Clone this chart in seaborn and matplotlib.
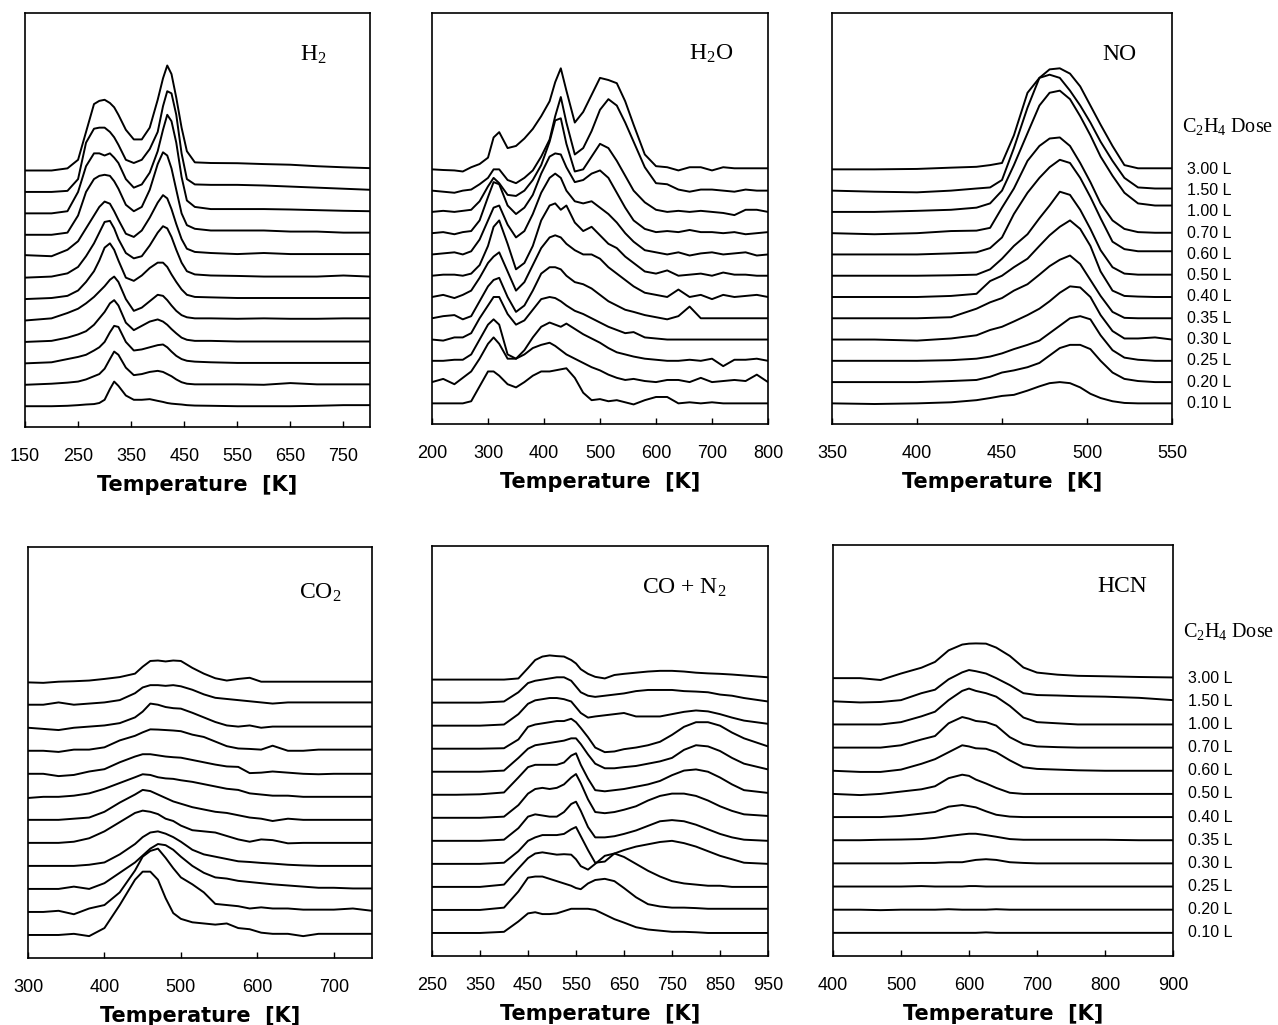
import pandas as pd
import matplotlib
matplotlib.use("Agg")
import matplotlib.pyplot as plt
import matplotlib.transforms as mtransforms
import seaborn as sns

# C2H4 doses, top trace first
doses = ["3.00 L", "1.50 L", "1.00 L", "0.70 L", "0.60 L", "0.50 L",
         "0.40 L", "0.35 L", "0.30 L", "0.25 L", "0.20 L", "0.10 L"]

# ---- H2 ----
h2_T = [150, 200, 230, 250, 265, 280, 290, 300, 310, 318, 326, 340, 355, 370, 385,
        400, 410, 418, 426, 435, 445, 455, 470, 500, 550, 600, 650, 700, 750, 800]
h2_I = [
    [0, 0, 0.1, 0.5, 1.8, 3.1, 3.25, 3.3, 3.15, 2.95, 2.6, 1.9, 1.45, 1.45, 2.0, 3.3, 4.3, 4.9, 4.5, 3.4, 2.0, 0.9, 0.38, 0.35, 0.34, 0.3, 0.27, 0.2, 0.15, 0.11],
    [0, 0, 0.05, 0.6, 2.3, 2.95, 3.0, 3.0, 2.8, 2.55, 2.2, 1.5, 1.35, 1.5, 2.0, 2.8, 4.0, 4.7, 4.6, 3.6, 1.8, 0.6, 0.35, 0.33, 0.33, 0.3, 0.25, 0.2, 0.15, 0.1],
    [0, 0, 0.1, 1.0, 2.2, 2.8, 2.8, 2.7, 2.8, 2.6, 2.35, 1.6, 1.2, 1.35, 1.9, 2.9, 3.9, 4.6, 4.3, 3.3, 1.7, 0.6, 0.3, 0.2, 0.2, 0.2, 0.18, 0.15, 0.12, 0.1],
    [0, 0, 0.1, 0.9, 2.0, 2.6, 2.75, 2.8, 2.75, 2.5, 2.15, 1.4, 1.1, 1.3, 2.1, 3.3, 3.85, 3.7, 3.1, 2.1, 1.0, 0.45, 0.28, 0.2, 0.2, 0.2, 0.15, 0.15, 0.1, 0.1],
    [0.05, 0.0, 0.3, 0.7, 1.3, 1.9, 2.3, 2.55, 2.45, 2.1, 1.7, 1.05, 0.9, 1.2, 1.8, 2.5, 2.85, 2.7, 2.2, 1.5, 0.8, 0.35, 0.2, 0.15, 0.1, 0.15, 0.1, 0.1, 0.1, 0.1],
    [0, 0.05, 0.2, 0.5, 1.0, 1.6, 2.1, 2.6, 2.65, 2.3, 1.8, 1.15, 0.9, 1.0, 1.5, 2.1, 2.4, 2.3, 1.9, 1.3, 0.7, 0.3, 0.15, 0.1, 0.08, 0.05, 0.05, 0.05, 0.1, 0.05],
    [0, 0.05, 0.15, 0.4, 0.8, 1.3, 1.8, 2.4, 2.6, 2.3, 1.8, 1.0, 0.85, 1.1, 1.45, 1.7, 1.7, 1.5, 1.15, 0.8, 0.45, 0.2, 0.1, 0.08, 0.05, 0.05, 0.05, 0.05, 0.05, 0.05],
    [0, 0.1, 0.35, 0.55, 0.8, 1.1, 1.35, 1.6, 1.9, 2.05, 1.8, 1.0, 0.45, 0.6, 0.9, 1.2, 1.15, 0.95, 0.7, 0.45, 0.25, 0.15, 0.1, 0.1, 0.08, 0.1, 0.08, 0.08, 0.1, 0.1],
    [0, 0.05, 0.2, 0.35, 0.5, 0.8, 1.1, 1.4, 1.8, 1.95, 1.7, 0.9, 0.55, 0.75, 0.95, 1.05, 0.95, 0.8, 0.6, 0.4, 0.2, 0.1, 0.05, 0.05, 0.02, 0.02, 0.02, 0.02, 0.02, 0.02],
    [0, 0.05, 0.2, 0.3, 0.4, 0.6, 0.75, 1.0, 1.45, 1.75, 1.7, 1.0, 0.6, 0.65, 0.75, 0.85, 0.88, 0.75, 0.55, 0.35, 0.2, 0.12, 0.08, 0.05, 0.02, 0.02, 0.02, 0.02, 0.02, 0.02],
    [0, 0.05, 0.1, 0.15, 0.25, 0.4, 0.5, 0.75, 1.2, 1.55, 1.4, 0.8, 0.45, 0.5, 0.6, 0.65, 0.6, 0.5, 0.4, 0.25, 0.12, 0.05, 0.02, 0.02, 0.02, 0.0, 0.08, 0.02, 0.02, 0.02],
    [0, 0, 0.02, 0.05, 0.08, 0.1, 0.15, 0.3, 0.8, 1.15, 0.95, 0.5, 0.3, 0.3, 0.33, 0.25, 0.2, 0.15, 0.12, 0.1, 0.08, 0.05, 0.03, 0.02, 0.0, 0.0, 0.0, 0.02, 0.05, 0.05],
]

# ---- H2O ----
h2o_T = [200, 220, 240, 255, 270, 285, 300, 310, 320, 335, 350, 365, 380, 395, 410, 420, 430, 440, 455,
         470, 485, 500, 515, 530, 545, 560, 580, 600, 620, 640, 660, 680, 700, 720, 740, 760, 780, 800]
h2o_I = [
    [0, -0.03, -0.05, -0.1, 0.1, 0.25, 0.55, 1.5, 1.75, 1.0, 1.1, 1.45, 1.9, 2.5, 3.2, 4.1, 4.75, 3.7, 2.2, 2.7, 3.5, 4.3, 4.2, 4.05, 3.2, 2.1, 0.7, 0.15, 0.1, -0.05, 0.1, 0.1, -0.05, 0.1, 0.05, 0.05, 0.05, 0.05],
    [0, -0.05, -0.1, 0.0, 0.05, 0.3, 0.6, 1.0, 1.0, 0.5, 0.35, 0.6, 0.95, 1.6, 2.4, 3.5, 4.4, 3.2, 1.7, 2.0, 2.8, 3.8, 4.3, 4.0, 3.2, 2.3, 1.1, 0.35, 0.3, 0.05, -0.05, 0.05, 0.05, 0.0, -0.05, 0.05, 0.0, 0.0],
    [0, 0.05, 0.0, 0.05, 0.1, 0.5, 1.2, 1.6, 1.35, 0.8, 0.75, 1.0, 1.5, 2.2, 3.3, 4.3, 4.4, 3.2, 1.9, 2.0, 2.6, 3.2, 3.0, 2.4, 1.7, 1.0, 0.45, 0.1, 0.0, 0.05, 0.0, 0.05, 0.0, -0.05, -0.15, 0.1, 0.1, 0.0],
    [0, 0.05, -0.05, 0.05, 0.1, 0.6, 1.7, 2.4, 2.3, 1.3, 0.9, 1.2, 1.8, 2.8, 3.6, 3.75, 3.7, 3.1, 2.4, 2.5, 2.8, 2.95, 2.6, 1.9, 1.2, 0.6, 0.2, 0.05, 0.1, 0.05, 0.15, 0.05, 0.05, 0.0, 0.05, -0.05, 0.0, 0.05],
    [0, 0.05, 0.1, 0.0, 0.15, 0.7, 1.6, 2.2, 2.3, 1.4, 0.8, 1.1, 1.9, 2.9, 3.6, 3.8, 3.6, 3.0, 2.5, 2.4, 2.5, 2.2, 1.9, 1.5, 1.0, 0.6, 0.2, 0.1, 0.0, 0.1, -0.05, 0.05, 0.1, 0.0, 0.05, 0.1, -0.05, 0.0],
    [0, 0.05, 0.05, 0.0, 0.1, 0.5, 1.4, 2.3, 2.6, 1.5, 0.3, 0.6, 1.4, 2.6, 3.3, 3.4, 3.1, 3.3, 2.5, 2.1, 2.3, 1.9, 1.5, 1.3, 0.9, 0.6, 0.2, 0.1, 0.25, 0.0, 0.05, 0.1, 0.0, 0.15, 0.05, 0.05, 0.0, 0.0],
    [0, 0.1, -0.05, 0.1, 0.3, 0.9, 1.6, 1.9, 2.1, 1.2, 0.3, 0.7, 1.5, 2.3, 2.8, 2.9, 2.8, 2.5, 2.2, 2.0, 2.0, 1.8, 1.4, 1.1, 0.8, 0.5, 0.2, 0.1, 0.0, 0.35, 0.0, 0.1, -0.1, 0.1, 0.0, 0.05, 0.1, 0.0],
    [0, 0.1, 0.15, -0.05, 0.1, 0.8, 1.5, 1.8, 1.9, 1.0, 0.3, 0.6, 1.3, 2.1, 2.4, 2.4, 2.3, 2.0, 1.7, 1.6, 1.4, 1.1, 0.8, 0.6, 0.4, 0.3, 0.15, 0.05, -0.05, 0.1, 0.55, 0.0, 0.0, 0.0, 0.0, 0.0, 0.0, 0.0],
    [0, -0.05, 0.1, 0.1, 0.3, 1.0, 1.6, 2.0, 2.0, 1.2, 0.7, 0.9, 1.4, 1.9, 2.0, 1.95, 1.8, 1.6, 1.35, 1.2, 1.0, 0.8, 0.6, 0.45, 0.3, 0.35, 0.1, 0.05, 0.0, 0.0, 0.0, 0.0, 0.0, 0.0, 0.0, 0.0, 0.0, 0.0],
    [0, 0.0, 0.05, 0.05, 0.3, 1.0, 1.7, 1.95, 1.7, 0.3, 0.1, 0.5, 1.1, 1.6, 1.8, 1.7, 1.6, 1.75, 1.5, 1.25, 1.05, 0.85, 0.6, 0.4, 0.3, 0.2, 0.1, 0.05, 0.0, 0.0, 0.05, 0.0, 0.1, -0.25, 0.05, 0.05, 0.1, 0.0],
    [0, 0.15, -0.1, 0.2, 0.5, 1.1, 1.8, 2.1, 1.8, 1.1, 1.1, 1.3, 1.6, 1.75, 1.85, 1.7, 1.5, 1.3, 1.1, 0.9, 0.7, 0.55, 0.35, 0.2, 0.1, 0.15, 0.05, 0.0, 0.1, 0.1, 0.0, 0.2, 0.0, 0.05, 0.1, 0.05, 0.35, 0.0],
    [0, 0.0, 0.0, 0.0, 0.1, 0.8, 1.5, 1.5, 1.3, 0.9, 0.75, 1.0, 1.3, 1.5, 1.5, 1.55, 1.6, 1.65, 1.2, 0.5, 0.15, 0.2, 0.1, 0.15, 0.05, -0.05, 0.15, 0.3, 0.3, 0.0, 0.05, 0.0, 0.05, 0.0, 0.0, 0.0, 0.0, 0.0],
]

# ---- NO ----
no_T = [350, 375, 400, 420, 435, 443, 450, 457, 465, 472, 478, 484, 490, 496, 502, 508, 515, 522, 530, 540, 550]
no_I = [
    [0, 0, 0.02, 0.08, 0.12, 0.2, 0.3, 1.6, 3.6, 4.3, 4.7, 4.75, 4.5, 3.9, 3.0, 2.1, 1.1, 0.2, 0.05, 0.05, 0.05],
    [0, -0.05, -0.08, 0, 0.1, 0.15, 0.5, 2.0, 3.9, 5.3, 5.45, 5.3, 4.7, 4.0, 3.2, 2.3, 1.4, 0.6, 0.15, 0.1, 0.1],
    [0, 0, 0.05, 0.1, 0.2, 0.4, 1.0, 2.2, 3.7, 5.0, 5.6, 5.7, 5.3, 4.5, 3.6, 2.6, 1.7, 0.9, 0.4, 0.3, 0.3],
    [0, -0.05, 0, 0.1, 0.12, 0.25, 1.2, 2.1, 3.4, 4.1, 4.45, 4.5, 4.1, 3.3, 2.4, 1.4, 0.6, 0.2, 0.05, 0.02, 0.02],
    [0, 0, 0, 0.05, 0.1, 0.3, 0.8, 1.9, 2.9, 3.6, 4.1, 4.45, 4.3, 3.6, 2.7, 1.7, 0.6, 0.25, 0.15, 0.15, 0.15],
    [0, 0, 0, 0.02, 0.05, 0.3, 0.8, 1.4, 1.95, 2.7, 3.3, 3.95, 3.8, 3.1, 2.2, 1.2, 0.4, 0.1, 0.05, 0.05, 0.05],
    [0, 0, 0, 0.05, 0.15, 0.75, 1.0, 1.4, 1.8, 2.4, 2.9, 3.3, 3.6, 3.2, 2.4, 1.2, 0.3, 0.05, 0.02, 0, 0],
    [0, 0, 0, 0.05, 0.45, 0.75, 0.95, 1.3, 1.6, 2.05, 2.45, 2.75, 2.95, 2.55, 1.8, 1.05, 0.3, 0.02, 0, 0, 0],
    [0, 0, -0.05, 0.05, 0.2, 0.45, 0.6, 0.85, 1.15, 1.45, 1.8, 2.2, 2.5, 2.45, 2.0, 1.15, 0.4, 0.05, 0.05, 0.1, 0],
    [0, 0, 0, 0.03, 0.1, 0.2, 0.35, 0.55, 0.75, 0.95, 1.3, 1.65, 2.0, 2.1, 1.95, 1.2, 0.5, 0.15, 0.05, 0, 0],
    [0, 0, 0, 0.05, 0.1, 0.25, 0.45, 0.55, 0.7, 0.9, 1.25, 1.6, 1.75, 1.75, 1.55, 1.0, 0.45, 0.15, 0.05, 0, 0],
    [0, -0.03, 0, 0.05, 0.15, 0.25, 0.35, 0.4, 0.6, 0.8, 0.95, 1.0, 0.95, 0.75, 0.45, 0.25, 0.1, 0.02, 0, 0, 0],
]

# ---- CO2 ----
co2_T = [300, 320, 340, 360, 380, 400, 420, 440, 450, 460, 470, 480, 490, 500, 515,
         530, 545, 560, 575, 590, 605, 620, 640, 660, 680, 700, 725, 750]
co2_I = [
    [-0.03, -0.05, 0.0, 0.02, 0.05, 0.12, 0.2, 0.35, 0.65, 0.9, 0.92, 0.88, 0.92, 0.9, 0.6, 0.35, 0.15, 0.05, 0.12, 0.17, 0.0, 0.0, 0.0, 0.0, 0.0, 0.0, 0.0, 0.0],
    [0, 0, 0.1, 0.0, 0.05, 0.1, 0.2, 0.5, 0.75, 0.85, 0.85, 0.82, 0.85, 0.8, 0.65, 0.45, 0.3, 0.25, 0.2, 0.15, 0.1, 0.05, 0.1, 0.1, 0.1, 0.1, 0.1, 0.1],
    [0, -0.05, -0.1, 0.0, 0.05, 0.1, 0.2, 0.45, 0.7, 1.05, 1.0, 0.9, 0.85, 0.83, 0.65, 0.45, 0.25, 0.1, 0.05, 0.1, 0.0, 0.05, 0.05, 0.05, 0.05, 0.05, 0.05, 0.05],
    [0, 0, -0.05, 0.05, 0.05, 0.15, 0.45, 0.65, 0.8, 0.93, 0.92, 0.9, 0.88, 0.85, 0.7, 0.6, 0.4, 0.2, 0.1, 0.08, 0.05, 0.22, 0.0, 0.0, 0.05, 0.05, 0.05, 0.05],
    [0, 0.0, -0.1, -0.05, 0.1, 0.2, 0.5, 0.75, 0.85, 0.85, 0.8, 0.75, 0.72, 0.7, 0.6, 0.5, 0.4, 0.32, 0.3, 0.03, 0.05, 0.1, 0.05, 0.0, -0.02, 0.0, 0.0, 0.0],
    [-0.05, 0.0, 0.0, 0.05, 0.15, 0.35, 0.6, 0.85, 0.98, 0.95, 0.85, 0.8, 0.78, 0.72, 0.65, 0.55, 0.45, 0.35, 0.3, 0.15, 0.1, 0.05, 0.05, 0.0, 0.0, 0.0, 0.0, 0.0],
    [0, 0, 0, 0.05, 0.1, 0.35, 0.75, 1.1, 1.3, 1.25, 1.1, 0.95, 0.8, 0.7, 0.55, 0.45, 0.35, 0.3, 0.2, 0.1, 0.05, -0.05, 0.05, 0.0, 0.0, 0.0, 0.0, 0.0],
    [0, 0, 0, 0.05, 0.2, 0.5, 0.9, 1.3, 1.4, 1.35, 1.25, 1.05, 0.95, 0.75, 0.55, 0.5, 0.45, 0.3, 0.15, 0.05, 0.15, 0.12, -0.02, 0.0, 0.0, 0.0, 0.0, 0.0],
    [0, 0, 0, 0, 0.05, 0.15, 0.5, 0.95, 1.25, 1.45, 1.5, 1.4, 1.25, 1.05, 0.7, 0.5, 0.4, 0.3, 0.2, 0.17, 0.13, 0.1, 0.05, 0.02, 0.0, 0.0, 0.0, 0.0],
    [0, 0, 0, 0.1, 0.0, 0.25, 0.7, 1.15, 1.45, 1.75, 1.95, 1.9, 1.7, 1.4, 1.0, 0.7, 0.5, 0.45, 0.35, 0.3, 0.25, 0.2, 0.15, 0.1, 0.05, 0.05, 0.02, 0.02],
    [0, 0, 0.05, -0.1, 0.15, 0.3, 0.85, 1.8, 2.4, 2.65, 2.75, 2.35, 1.9, 1.5, 1.2, 0.85, 0.35, 0.3, 0.25, 0.15, 0.2, 0.15, 0.15, 0.1, 0.1, 0.1, 0.15, 0.05],
    [0, 0, 0, 0.05, -0.05, 0.3, 1.3, 2.4, 2.75, 2.75, 2.4, 1.6, 0.95, 0.7, 0.55, 0.5, 0.45, 0.5, 0.3, 0.25, 0.1, 0.05, 0.05, -0.05, 0.05, 0.05, 0.05, 0.05],
]

# ---- CO + N2 ----
co_T = [250, 300, 350, 400, 430, 450, 465, 480, 495, 510, 525, 540, 550, 560, 575,
        590, 610, 630, 650, 675, 700, 725, 750, 775, 800, 825, 850, 875, 900, 950]
co_I = [
    [0, 0, 0, 0, 0.05, 0.5, 0.85, 1.0, 1.05, 1.02, 1.0, 0.85, 0.7, 0.45, 0.25, 0.12, 0.05, 0.2, 0.25, 0.3, 0.35, 0.38, 0.38, 0.35, 0.3, 0.27, 0.25, 0.22, 0.18, 0.1],
    [0, 0, 0, 0.05, 0.45, 0.85, 0.95, 1.0, 1.05, 1.1, 1.1, 0.95, 0.7, 0.45, 0.3, 0.25, 0.3, 0.35, 0.4, 0.5, 0.55, 0.55, 0.55, 0.5, 0.48, 0.45, 0.35, 0.3, 0.2, 0.05],
    [0, 0, 0, 0.05, 0.5, 0.95, 1.1, 1.15, 1.2, 1.2, 1.15, 1.05, 0.8, 0.55, 0.35, 0.4, 0.45, 0.5, 0.55, 0.4, 0.4, 0.4, 0.5, 0.6, 0.66, 0.62, 0.5, 0.35, 0.22, 0.08],
    [0, 0, 0, 0.02, 0.4, 0.95, 1.05, 1.1, 1.15, 1.2, 1.2, 1.3, 1.15, 0.9, 0.5, 0.05, -0.15, -0.12, -0.02, 0.05, 0.15, 0.3, 0.6, 0.95, 1.15, 1.15, 1.0, 0.7, 0.45, 0.1],
    [0, 0, 0, 0.05, 0.6, 1.0, 1.15, 1.2, 1.25, 1.3, 1.35, 1.45, 1.45, 1.2, 0.75, 0.35, 0.15, 0.15, 0.2, 0.25, 0.35, 0.45, 0.6, 0.95, 1.15, 1.1, 0.9, 0.6, 0.35, 0.1],
    [0, 0, 0.02, 0.1, 0.75, 1.2, 1.3, 1.3, 1.3, 1.3, 1.4, 1.7, 1.8, 1.3, 0.7, 0.2, 0.15, 0.2, 0.25, 0.35, 0.45, 0.6, 0.85, 1.05, 1.1, 1.0, 0.75, 0.45, 0.2, 0.08],
    [0, 0, 0, 0.05, 0.55, 1.05, 1.25, 1.3, 1.25, 1.3, 1.45, 1.75, 1.9, 1.5, 0.8, 0.25, 0.2, 0.25, 0.35, 0.5, 0.75, 0.95, 1.05, 1.05, 0.95, 0.75, 0.5, 0.3, 0.15, 0.08],
    [0, 0, 0, 0.05, 0.55, 1.05, 1.15, 1.1, 1.05, 1.05, 1.25, 1.6, 1.7, 1.3, 0.6, 0.15, 0.15, 0.2, 0.3, 0.45, 0.65, 0.85, 0.9, 0.85, 0.7, 0.5, 0.3, 0.15, 0.05, 0.0],
    [0, 0, 0, 0.05, 0.55, 1.0, 1.15, 1.25, 1.25, 1.25, 1.3, 1.5, 1.6, 1.2, 0.6, 0.05, 0.1, 0.45, 0.6, 0.75, 0.85, 0.95, 1.0, 0.9, 0.75, 0.55, 0.35, 0.2, 0.05, 0.0],
    [0, 0, 0, 0.1, 0.8, 1.25, 1.45, 1.5, 1.45, 1.4, 1.42, 1.4, 1.2, 0.9, 0.75, 1.0, 1.35, 1.45, 1.3, 1.0, 0.7, 0.45, 0.25, 0.15, 0.1, 0.05, 0.05, 0.0, 0.0, 0.0],
    [0, 0, 0, 0.1, 0.8, 1.4, 1.45, 1.45, 1.35, 1.25, 1.15, 1.05, 0.95, 0.9, 1.15, 1.3, 1.35, 1.25, 0.95, 0.55, 0.25, 0.15, 0.1, 0.1, 0.08, 0.05, 0.05, 0.05, 0.05, 0.05],
    [0, 0, 0, 0.05, 0.5, 0.85, 0.9, 0.82, 0.82, 0.85, 0.95, 1.05, 1.05, 1.05, 1.05, 1.0, 0.8, 0.6, 0.45, 0.25, 0.15, 0.1, 0.05, 0.05, 0.03, 0.0, 0.0, 0.0, 0.0, 0.0],
]

# ---- HCN ----
hcn_T = [400, 440, 470, 500, 530, 550, 570, 590, 600, 610, 625, 640, 660, 680, 700, 730, 760, 800, 850, 900]
hcn_I = [
    [0, 0, -0.08, 0.2, 0.45, 0.7, 1.2, 1.45, 1.49, 1.5, 1.49, 1.32, 0.96, 0.46, 0.24, 0.15, 0.1, 0.08, 0.05, 0.03],
    [0, -0.05, -0.03, 0.05, 0.35, 0.5, 0.95, 1.25, 1.35, 1.3, 1.2, 1.0, 0.7, 0.35, 0.27, 0.25, 0.22, 0.2, 0.15, 0.05],
    [0, 0, 0, 0.1, 0.35, 0.55, 1.05, 1.45, 1.55, 1.45, 1.35, 1.2, 0.8, 0.3, 0.1, 0.05, 0, 0, 0, 0],
    [0, 0, 0, 0.1, 0.35, 0.5, 1.05, 1.32, 1.25, 1.15, 1.1, 0.95, 0.45, 0.15, 0.05, 0.02, 0.0, 0.0, 0, 0],
    [0, -0.05, -0.05, 0.05, 0.3, 0.5, 0.8, 1.1, 1.05, 0.97, 0.95, 0.8, 0.45, 0.15, 0.08, 0.05, 0.02, 0.0, 0.0, 0.0],
    [0, -0.05, 0, 0.1, 0.2, 0.33, 0.68, 0.83, 0.78, 0.62, 0.45, 0.26, 0.05, 0.0, 0.0, 0.0, 0.0, 0.0, 0.0, 0.0],
    [0, 0, 0, 0.05, 0.15, 0.22, 0.45, 0.52, 0.47, 0.42, 0.25, 0.1, 0.02, 0.0, 0.0, 0.0, 0.0, 0.0, 0.0, 0.0],
    [0, 0, 0.02, 0.03, 0.05, 0.1, 0.18, 0.25, 0.28, 0.28, 0.22, 0.15, 0.05, 0.02, 0.02, 0.02, 0.02, 0.02, 0, 0],
    [0, 0, 0, 0, 0.02, 0.02, 0.05, 0.05, 0.1, 0.15, 0.18, 0.15, 0.05, 0.02, 0, 0, 0, 0, 0, 0],
    [0, 0, 0, 0, 0.02, 0, 0, 0, 0.02, 0.02, 0, 0, 0, 0, 0, 0, 0, 0, 0, 0],
    [0, 0, -0.02, 0, 0, 0, 0.02, 0, 0, 0, 0, 0.02, 0, 0, 0, 0, 0, 0, 0, 0],
    [0, 0, 0, 0, 0, 0, 0, 0, 0, 0, 0.02, 0, 0, 0, 0, 0, 0, 0, 0, 0],
]

sns.set_style("white")
plt.rcParams["font.family"] = ["Liberation Sans", "DejaVu Sans"]
plt.rcParams["mathtext.default"] = "regular"
plt.rcParams["text.color"] = "black"
plt.rcParams["axes.labelcolor"] = "black"
plt.rcParams["xtick.color"] = "black"

W, H = 1278, 1025
fig = plt.figure(figsize=(W / 100, H / 100), dpi=100)

# species, T, intensities, xlim, xticks, box in pixels (l, r, t, b), ylim, label pos, dose labels
panels = [
    (r"H$_2$", h2_T, h2_I, (150, 800), range(150, 751, 100), (25, 370, 13, 427), (-0.97, 18.35), (0.835, 0.9), False),
    (r"H$_2$O", h2o_T, h2o_I, (200, 800), range(200, 801, 100), (432, 768, 13, 424), (-0.97, 18.35), (0.83, 0.9), False),
    ("NO", no_T, no_I, (350, 550), range(350, 551, 50), (832, 1172, 13, 424), (-0.97, 18.35), (0.845, 0.9), True),
    (r"CO$_2$", co2_T, co2_I, (300, 750), range(300, 701, 100), (28, 372, 547, 958), (-1.0, 16.85), (0.85, 0.888), False),
    (r"CO + N$_2$", co_T, co_I, (250, 950), range(250, 951, 100), (432, 768, 546, 956), (-1.0, 16.8), (0.75, 0.898), False),
    ("HCN", hcn_T, hcn_I, (400, 900), range(400, 901, 100), (833, 1173, 545, 956), (-1.0, 16.75), (0.85, 0.9), True),
]

n = len(doses)
for name, T, rows, xlim, ticks, box, ylim, lpos, show_doses in panels:
    l, r, t, b = box
    ax = fig.add_axes([l / W, 1 - b / H, (r - l) / W, (b - t) / H])

    recs = []
    for i, row in enumerate(rows):
        off = n - 1 - i
        for x, v in zip(T, row):
            recs.append({"T": x, "signal": v + off, "dose": doses[i]})
    df = pd.DataFrame(recs)
    sns.lineplot(data=df, x="T", y="signal", units="dose", estimator=None,
                 color="black", linewidth=1.4, ax=ax, legend=False)

    ax.set_xlim(*xlim)
    ax.set_ylim(*ylim)
    ax.set_xticks(list(ticks))
    ax.set_yticks([])
    ax.set_ylabel("")
    ax.tick_params(axis="x", direction="in", length=4, width=1, pad=15,
                   labelsize=13, bottom=True, top=False, colors="black")
    ax.set_xlabel("Temperature  [K]", fontsize=15, fontweight="bold", labelpad=7,
                  family=["DejaVu Sans"])
    for s in ax.spines.values():
        s.set_color("black")
        s.set_linewidth(1.2)

    ax.text(lpos[0], lpos[1], name, transform=ax.transAxes, ha="center", va="center",
            fontsize=17, family=["Liberation Serif", "DejaVu Serif"])

    if show_doses:
        trans = mtransforms.blended_transform_factory(ax.transAxes, ax.transData)
        for i, d in enumerate(doses):
            ax.text(1.045, n - 1 - i, d, transform=trans, ha="left", va="center", fontsize=11.5)
        ax.text(1.028, n + 1.0, r"C$_2$H$_4$ Dose", transform=trans, ha="left", va="center",
                fontsize=14.5, family=["Liberation Serif", "DejaVu Serif"])

fig.savefig("out.png", dpi=100)
